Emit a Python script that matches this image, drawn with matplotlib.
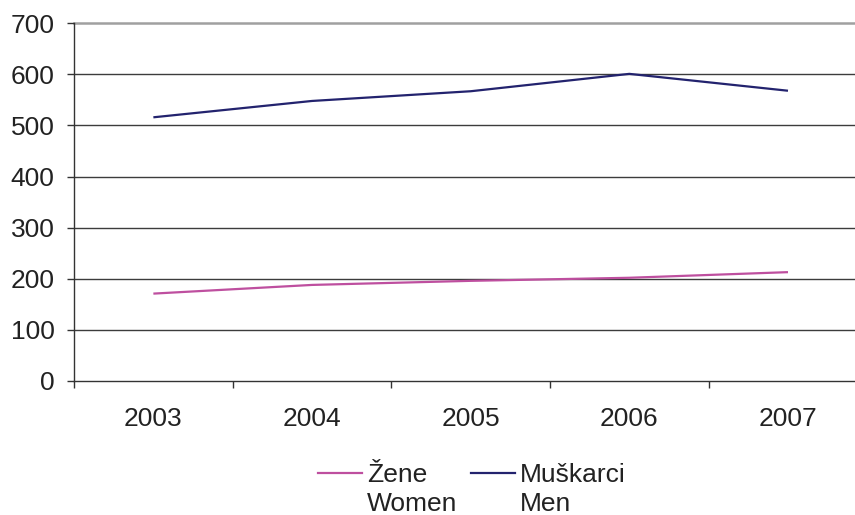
import matplotlib.pyplot as plt
from matplotlib.lines import Line2D
import numpy as np

plt.rcParams['font.family'] = ['Liberation Sans', 'DejaVu Sans']

years = ['2003', '2004', '2005', '2006', '2007']
women = [171, 188, 196, 202, 213]
men = [516, 548, 567, 601, 568]
y_ticks = [0, 100, 200, 300, 400, 500, 600, 700]

women_color = '#BE4F9F'
men_color = '#23236E'
grid_color = '#3C3C3C'
text_color = '#222222'
fs = 19

fig = plt.figure(figsize=(8.55, 5.15), dpi=100)
ax = fig.add_axes([0.0866, 0.2602, 0.9278, 0.6946])

x = np.arange(len(years)) + 0.5
ax.plot(x, women, color=women_color, lw=1.6, solid_capstyle='butt', zorder=3)
ax.plot(x, men, color=men_color, lw=1.6, solid_capstyle='butt', zorder=3)

ax.set_xlim(0, len(years))
ax.set_ylim(0, 700)

# horizontal gridlines, the top one drawn lighter like a frame edge
for v in y_ticks[1:-1]:
    ax.axhline(v, color=grid_color, lw=1.0, zorder=1)
ax.axhline(700, color='#A0A0A0', lw=1.8, zorder=1, clip_on=False)

for side in ('top', 'right'):
    ax.spines[side].set_visible(False)
for side in ('left', 'bottom'):
    ax.spines[side].set_color('#333333')
    ax.spines[side].set_linewidth(1.0)

ax.set_yticks(y_ticks)
ax.set_yticklabels([str(v) for v in y_ticks])
ax.tick_params(axis='y', direction='out', length=5, width=1.0, color='#333333',
               pad=9, labelsize=fs, labelcolor=text_color)

# category boundaries get ticks, labels sit at bin centres
ax.set_xticks(np.arange(len(years) + 1))
ax.set_xticklabels([])
ax.set_xticks(x, minor=True)
ax.set_xticklabels(years, minor=True)
ax.tick_params(axis='x', which='major', direction='out', length=5, width=1.0,
               color='#333333')
ax.tick_params(axis='x', which='minor', length=0, pad=19, labelsize=fs,
               labelcolor=text_color)

# legend below the plot, handle level with the first label line
W, H = 855, 515
entries = [('Žene', 'Women', women_color, 318), ('Muškarci', 'Men', men_color, 471)]
for top, bottom, color, x0 in entries:
    fig.add_artist(Line2D([x0 / W, (x0 + 44) / W], [1 - 473 / H, 1 - 473 / H],
                          color=color, lw=1.6, transform=fig.transFigure))
    fig.text((x0 + 49) / W, 1 - 482 / H, top, fontsize=fs, color=text_color,
             va='baseline', ha='left')
    fig.text((x0 + 49) / W, 1 - 511 / H, bottom, fontsize=fs, color=text_color,
             va='baseline', ha='left')

fig.savefig('out.png', dpi=100)
